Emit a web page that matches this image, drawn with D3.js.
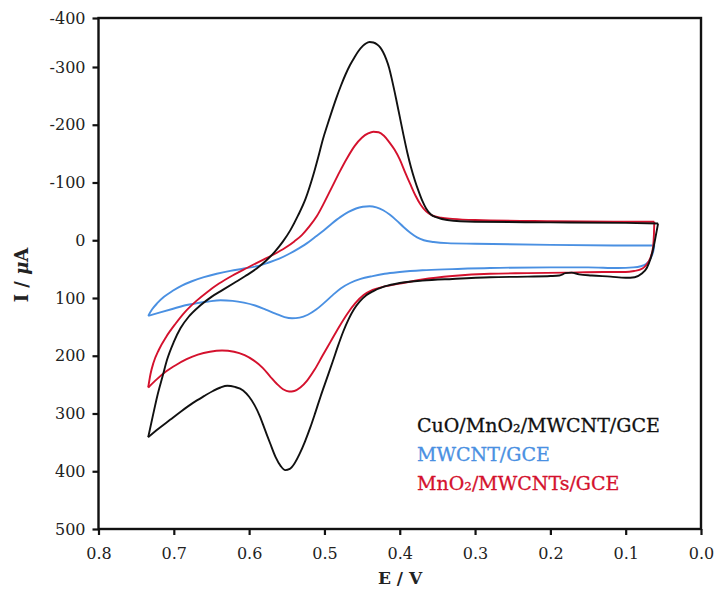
<!DOCTYPE html>
<html>
<head>
<meta charset="utf-8">
<script src="https://cdn.jsdelivr.net/npm/d3@7/dist/d3.min.js"></script>
<style>
  html, body { margin: 0; padding: 0; background: #fff; }
  svg { display: block; }
  text { font-family: "DejaVu Serif", serif; }
</style>
</head>
<body>
<svg id="chart" width="718" height="589"></svg>
<script>
// ---- data (E in V, I in µA; positive I plotted downward) ----
const xTicks = [0.8, 0.7, 0.6, 0.5, 0.4, 0.3, 0.2, 0.1, 0.0];
const xTickLabels = ["0.8", "0.7", "0.6", "0.5", "0.4", "0.3", "0.2", "0.1", "0.0"];
const yTicks = [-400, -300, -200, -100, 0, 100, 200, 300, 400, 500];
const yTickLabels = ["-400", "-300", "-200", "-100", "0", "100", "200", "300", "400", "500"];

const seriesNames = ["CuO/MnO\u2082/MWCNT/GCE", "MWCNT/GCE", "MnO\u2082/MWCNTs/GCE"];
const seriesColors = ["#111111", "#4a90e2", "#d4112d"];

// CuO/MnO2/MWCNT/GCE
const blackUpper = [[0.734, 341], [0.728, 305], [0.722, 270], [0.715, 236], [0.709, 207], [0.700, 176], [0.691, 152], [0.680, 132], [0.665, 113], [0.650, 98], [0.635, 86], [0.620, 74], [0.605, 62], [0.590, 49], [0.578, 36], [0.566, 20], [0.555, 2], [0.545, -18], [0.535, -43], [0.525, -72], [0.515, -112], [0.508, -145], [0.502, -175], [0.496, -200], [0.490, -224], [0.484, -247], [0.478, -268], [0.472, -287], [0.466, -304], [0.460, -320], [0.455, -332], [0.449, -343], [0.445, -348], [0.440, -351], [0.435, -350], [0.430, -346], [0.426, -340], [0.422, -330], [0.418, -316], [0.414, -298], [0.410, -276], [0.405, -246], [0.400, -214], [0.395, -182], [0.390, -152], [0.385, -126], [0.380, -104], [0.375, -85], [0.370, -68], [0.365, -55], [0.359, -45], [0.350, -39], [0.337, -35], [0.300, -32], [0.200, -31], [0.100, -30], [0.057, -29]];
const blackLower = [[0.734, 341], [0.720, 326], [0.705, 311], [0.690, 296], [0.675, 282], [0.660, 270], [0.648, 261], [0.638, 255], [0.629, 252], [0.619, 254], [0.608, 260], [0.600, 271], [0.593, 285], [0.586, 304], [0.579, 328], [0.572, 352], [0.565, 375], [0.558, 391], [0.552, 398], [0.546, 396], [0.540, 387], [0.533, 370], [0.526, 349], [0.519, 325], [0.512, 298], [0.505, 270], [0.497, 240], [0.489, 210], [0.482, 183], [0.475, 158], [0.468, 137], [0.461, 120], [0.453, 106], [0.444, 95], [0.435, 88], [0.420, 80], [0.400, 74], [0.370, 70], [0.330, 67], [0.280, 64], [0.230, 63], [0.200, 62], [0.188, 61], [0.180, 57], [0.172, 56], [0.162, 59], [0.145, 61], [0.120, 63], [0.100, 65], [0.088, 64], [0.079, 58], [0.072, 48], [0.067, 32], [0.063, 12], [0.060, -8], [0.057, -29]];

// MWCNT/GCE
const blueUpper = [[0.734, 131], [0.729, 120], [0.722, 109], [0.713, 98], [0.702, 88], [0.690, 79], [0.676, 71], [0.660, 64], [0.643, 58], [0.625, 53], [0.607, 49], [0.590, 45], [0.575, 39], [0.560, 32], [0.546, 23], [0.534, 14], [0.523, 5], [0.512, -6], [0.501, -17], [0.490, -29], [0.479, -40], [0.468, -49], [0.458, -55], [0.449, -58], [0.440, -59], [0.431, -57], [0.422, -52], [0.413, -44], [0.404, -34], [0.395, -23], [0.386, -13], [0.377, -5], [0.368, 0], [0.355, 3], [0.337, 5], [0.300, 6], [0.200, 8], [0.100, 9], [0.062, 9]];
const blueLower = [[0.734, 131], [0.718, 125], [0.702, 119], [0.686, 113], [0.670, 109], [0.654, 106], [0.638, 104], [0.622, 105], [0.607, 108], [0.592, 113], [0.578, 120], [0.565, 127], [0.553, 133], [0.543, 135], [0.533, 134], [0.522, 129], [0.511, 120], [0.500, 108], [0.489, 95], [0.478, 83], [0.466, 74], [0.452, 67], [0.436, 62], [0.420, 58], [0.400, 55], [0.370, 52], [0.330, 50], [0.280, 48], [0.200, 47], [0.150, 47], [0.110, 48], [0.090, 47], [0.080, 45], [0.073, 41], [0.068, 34], [0.065, 26], [0.063, 17], [0.062, 9]];

// MnO2/MWCNTs/GCE
const redUpper = [[0.734, 255], [0.731, 232], [0.727, 212], [0.720, 190], [0.710, 167], [0.698, 145], [0.685, 124], [0.670, 105], [0.655, 89], [0.640, 75], [0.622, 61], [0.603, 48], [0.585, 36], [0.568, 25], [0.552, 13], [0.540, 2], [0.530, -9], [0.520, -24], [0.510, -42], [0.500, -66], [0.490, -92], [0.480, -118], [0.470, -142], [0.460, -163], [0.450, -178], [0.442, -185], [0.435, -188], [0.428, -187], [0.421, -181], [0.414, -170], [0.407, -157], [0.400, -140], [0.393, -118], [0.386, -97], [0.379, -77], [0.372, -61], [0.365, -50], [0.357, -43], [0.345, -39], [0.330, -37], [0.300, -35], [0.200, -33], [0.100, -32], [0.062, -32]];
const redLower = [[0.734, 255], [0.722, 240], [0.710, 227], [0.697, 216], [0.683, 206], [0.668, 198], [0.652, 193], [0.636, 191], [0.620, 193], [0.606, 199], [0.594, 208], [0.582, 221], [0.572, 236], [0.563, 249], [0.555, 258], [0.547, 262], [0.540, 261], [0.532, 255], [0.523, 243], [0.513, 224], [0.503, 201], [0.492, 176], [0.481, 151], [0.470, 128], [0.459, 109], [0.448, 95], [0.436, 86], [0.420, 80], [0.400, 75], [0.370, 68], [0.330, 62], [0.280, 58], [0.230, 57], [0.180, 56], [0.130, 55], [0.100, 55], [0.088, 53], [0.081, 51], [0.075, 46], [0.070, 38], [0.066, 26], [0.0637, 12], [0.0625, -10], [0.062, -32]];

const curves = [
  { branches: [blueUpper, blueLower], color: seriesColors[1] },
  { branches: [redUpper, redLower], color: seriesColors[2] },
  { branches: [blackUpper, blackLower], color: seriesColors[0] }
];

// ---- layout ----
const W = 718, H = 589;
const plot = { left: 98.5, right: 701, top: 18, bottom: 529 };

const x = d3.scaleLinear().domain([0.8, 0.0]).range([plot.left, plot.right]);
const yLin = d3.scaleLinear().domain([-300, 500]).range([67, plot.bottom]);
const y = d3.scaleLinear().domain([-400, -300, 500]).range([plot.top, yLin(-300), plot.bottom]);

const svg = d3.select("#chart");

// curves
const line = d3.line()
  .x(d => x(d[0]))
  .y(d => y(d[1]))
  .curve(d3.curveMonotoneX);

const g = svg.append("g");
curves.forEach(c => {
  c.branches.forEach(b => {
    g.append("path")
      .attr("d", line(b))
      .attr("fill", "none")
      .attr("stroke", c.color)
      .attr("stroke-width", 1.9)
      .attr("stroke-linejoin", "round");
  });
});

// frame
svg.append("rect")
  .attr("x", plot.left).attr("y", plot.top)
  .attr("width", plot.right - plot.left)
  .attr("height", plot.bottom - plot.top)
  .attr("fill", "none")
  .attr("stroke", "#111")
  .attr("stroke-width", 2.4);

// axes
const xAxis = d3.axisBottom(x)
  .tickValues(xTicks)
  .tickFormat((d, i) => xTickLabels[i])
  .tickSize(6)
  .tickPadding(13);
const gx = svg.append("g")
  .attr("transform", `translate(0,${plot.bottom})`)
  .call(xAxis);
gx.select(".domain").remove();
gx.selectAll(".tick line").attr("stroke", "#111").attr("stroke-width", 2.2);
gx.selectAll(".tick text")
  .attr("fill", "#222")
  .style("font-family", "'DejaVu Serif', serif")
  .style("font-size", "16px");

const yAxis = d3.axisLeft(y)
  .tickValues(yTicks)
  .tickFormat((d, i) => yTickLabels[i])
  .tickSize(6)
  .tickPadding(7);
const gy = svg.append("g")
  .attr("transform", `translate(${plot.left},0)`)
  .call(yAxis);
gy.select(".domain").remove();
gy.selectAll(".tick line").attr("stroke", "#111").attr("stroke-width", 2.2);
gy.selectAll(".tick text")
  .attr("fill", "#222")
  .style("font-family", "'DejaVu Serif', serif")
  .style("font-size", "16px");

// axis titles
svg.append("text")
  .attr("x", 400).attr("y", 584)
  .attr("text-anchor", "middle")
  .style("font-size", "17px")
  .style("font-weight", "bold")
  .attr("fill", "#222")
  .text("E / V");

const yt = svg.append("text")
  .attr("transform", "translate(28,275) rotate(-90)")
  .attr("text-anchor", "middle")
  .style("font-size", "18px")
  .style("font-weight", "bold")
  .attr("fill", "#222");
yt.append("tspan").text("I / ");
yt.append("tspan").style("font-style", "italic").text("\u03bc");
yt.append("tspan").text("A");

// legend
const legend = svg.append("g");
seriesNames.forEach((name, i) => {
  legend.append("text")
    .attr("x", 417)
    .attr("y", 432 + i * 29)
    .attr("fill", seriesColors[i])
    .attr("stroke", seriesColors[i])
    .attr("stroke-width", 0.3)
    .style("font-size", "19px")
    .text(name);
});
</script>
</body>
</html>
